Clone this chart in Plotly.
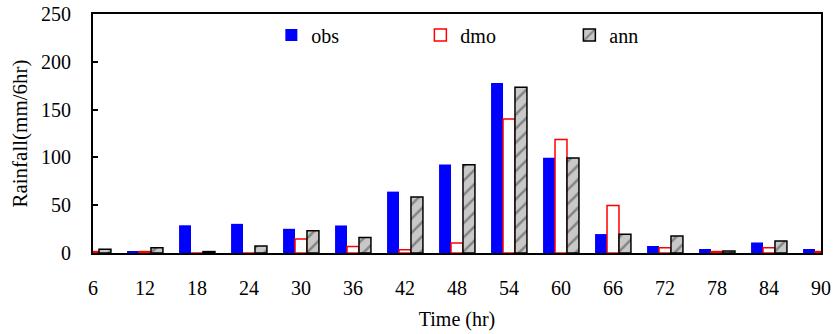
import plotly.graph_objects as go

hours = [6, 12, 18, 24, 30, 36, 42, 48, 54, 60, 66, 72, 78, 84, 90]
obs = [0, 1.5, 29, 30.5, 25.3, 28.8, 64.2, 92.7, 177.7, 99.6, 19.8, 7.3, 4.2, 11, 4.2]
dmo = [1.5, 1.5, 0, 0, 14.6, 6.9, 3.4, 10.4, 140.2, 118.7, 49.6, 5.5, 1.5, 5.5, 1.5]
ann = [4, 5.5, 1.5, 7.3, 23.2, 16.3, 58.6, 92.3, 173.5, 99.3, 19.5, 17.7, 2, 12.5, 2]
y_ticks = [0, 50, 100, 150, 200, 250]

FONT = "Liberation Serif"

fig = go.Figure()
fig.add_trace(go.Bar(x=hours, y=obs, name="obs",
                     marker=dict(color="#0000ff", line=dict(width=0))))
fig.add_trace(go.Bar(x=hours, y=dmo, name="dmo",
                     marker=dict(color="white", line=dict(color="#ff0000", width=1.5))))
fig.add_trace(go.Bar(x=hours, y=ann, name="ann",
                     marker=dict(color="#c0c0c0", line=dict(color="black", width=1.5),
                                 pattern=dict(shape="/", fgcolor="#404040", bgcolor="#c8c8c8",
                                              size=10, solidity=0.25))))

fig.update_layout(
    width=836, height=334,
    margin=dict(l=93, r=15, t=14, b=81, autoexpand=False),
    paper_bgcolor="white", plot_bgcolor="white",
    barmode="group", bargap=0.31, bargroupgap=0,
    font=dict(family=FONT, size=20, color="black"),
    showlegend=True,
    legend=dict(orientation="h", x=0.245, y=0.912, xanchor="left", yanchor="middle",
                entrywidth=104, entrywidthmode="pixels", itemwidth=30,
                font=dict(family=FONT, size=20), bgcolor="rgba(0,0,0,0)"),
    xaxis=dict(range=[6, 90], tickmode="array", tickvals=hours,
               ticktext=[str(h) for h in hours], ticks="", showgrid=False,
               showline=True, linecolor="black", linewidth=2, mirror=True,
               zeroline=False, ticklabelstandoff=16,
               title=dict(text="Time (hr)", font=dict(family=FONT, size=20), standoff=14)),
    yaxis=dict(range=[0, 250], tickmode="array", tickvals=y_ticks,
               ticks="inside", ticklen=5, tickwidth=2, tickcolor="black",
               showgrid=False, showline=True, linecolor="black", linewidth=2,
               mirror=True, zeroline=False, ticklabelstandoff=16,
               title=dict(text="Rainfall(mm/6hr)", font=dict(family=FONT, size=21), standoff=8)),
)

fig.write_html("out.html")
